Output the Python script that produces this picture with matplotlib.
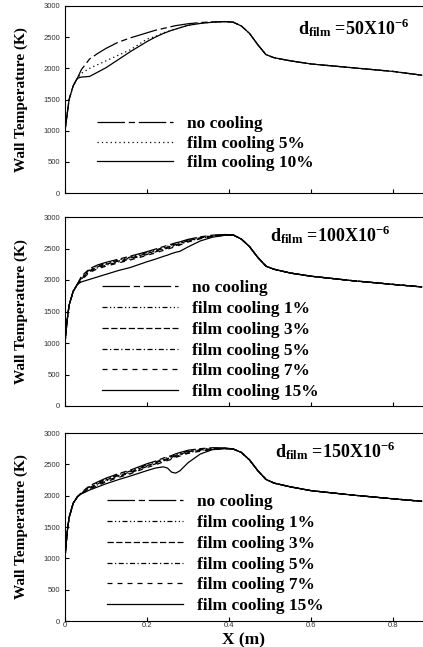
import numpy as np
import matplotlib
matplotlib.use("Agg")
import matplotlib.pyplot as plt

plt.rcParams['font.family'] = ['Liberation Serif', 'DejaVu Serif']
plt.rcParams['mathtext.fontset'] = 'custom'
plt.rcParams['mathtext.rm'] = 'Liberation Serif'
plt.rcParams['mathtext.bf'] = 'Liberation Serif:bold'

# common x grid (m)
x_m = [0, 0.005, 0.01, 0.02, 0.03, 0.04, 0.06, 0.08, 0.1, 0.13, 0.16, 0.2, 0.22, 0.24, 0.25,
       0.26, 0.27, 0.28, 0.3, 0.33, 0.36, 0.39, 0.41, 0.43, 0.45, 0.47, 0.49, 0.51, 0.55,
       0.6, 0.7, 0.8, 0.87]

# panel 1 : d_film = 50e-6
p1_none = [1000, 1250, 1500, 1720, 1840, 1980, 2150, 2240, 2320, 2420, 2490, 2570, 2610, 2640, 2655,
           2670, 2685, 2695, 2715, 2735, 2745, 2750, 2740, 2680, 2560, 2380, 2220, 2170, 2120,
           2070, 2010, 1950, 1890]
p1_c5 = [1000, 1250, 1500, 1720, 1840, 1920, 2000, 2060, 2120, 2210, 2300, 2470, 2510, 2570, 2590,
         2610, 2630, 2650, 2690, 2725, 2740, 2750, 2740, 2680, 2560, 2380, 2220, 2170, 2120,
         2070, 2010, 1950, 1890]
p1_c10 = [1000, 1250, 1500, 1720, 1840, 1860, 1870, 1940, 2010, 2140, 2270, 2430, 2500, 2560, 2585,
          2610, 2630, 2650, 2690, 2720, 2740, 2750, 2740, 2680, 2560, 2380, 2220, 2170, 2120,
          2070, 2010, 1950, 1890]

# panel 2 : d_film = 100e-6
p2_none = [1000, 1350, 1600, 1820, 1930, 2060, 2180, 2240, 2280, 2330, 2380, 2450, 2490, 2530, 2550,
           2570, 2590, 2605, 2645, 2685, 2712, 2722, 2715, 2650, 2530, 2360, 2220, 2170, 2110,
           2060, 1990, 1930, 1890]
p2_c1 = [1000, 1350, 1600, 1820, 1930, 2045, 2165, 2225, 2265, 2315, 2365, 2435, 2475, 2515, 2535,
         2555, 2575, 2592, 2635, 2677, 2706, 2718, 2715, 2650, 2530, 2360, 2220, 2170, 2110,
         2060, 1990, 1930, 1890]
p2_c3 = [1000, 1350, 1600, 1820, 1930, 2030, 2150, 2210, 2250, 2300, 2350, 2420, 2460, 2500, 2520,
         2540, 2560, 2580, 2625, 2670, 2700, 2715, 2715, 2650, 2530, 2360, 2220, 2170, 2110,
         2060, 1990, 1930, 1890]
p2_c5 = [1000, 1350, 1600, 1820, 1930, 2015, 2135, 2195, 2235, 2285, 2335, 2405, 2445, 2485, 2505,
         2525, 2546, 2567, 2614, 2662, 2695, 2712, 2715, 2650, 2530, 2360, 2220, 2170, 2110,
         2060, 1990, 1930, 1890]
p2_c7 = [1000, 1350, 1600, 1820, 1930, 2000, 2120, 2180, 2220, 2270, 2320, 2390, 2430, 2470, 2490,
         2510, 2532, 2555, 2603, 2655, 2690, 2710, 2715, 2650, 2530, 2360, 2220, 2170, 2110,
         2060, 1990, 1930, 1890]
p2_c15 = [1000, 1350, 1600, 1820, 1930, 1970, 2010, 2050, 2090, 2150, 2200, 2290, 2330, 2375, 2395,
          2420, 2440, 2455, 2525, 2620, 2680, 2710, 2715, 2650, 2530, 2360, 2220, 2170, 2110,
          2060, 1990, 1930, 1890]

# panel 3 : d_film = 150e-6
p3_none = [1000, 1400, 1650, 1880, 1980, 2050, 2160, 2220, 2280, 2350, 2410, 2510, 2550, 2600, 2620,
           2640, 2668, 2688, 2725, 2750, 2765, 2762, 2745, 2690, 2570, 2400, 2260, 2200, 2140,
           2080, 2010, 1950, 1910]
p3_c1 = [1000, 1400, 1650, 1880, 1980, 2045, 2145, 2205, 2265, 2335, 2395, 2495, 2535, 2585, 2605,
         2625, 2654, 2674, 2712, 2740, 2758, 2758, 2745, 2690, 2570, 2400, 2260, 2200, 2140,
         2080, 2010, 1950, 1910]
p3_c3 = [1000, 1400, 1650, 1880, 1980, 2040, 2130, 2190, 2250, 2320, 2380, 2480, 2520, 2570, 2590,
         2610, 2640, 2660, 2700, 2730, 2750, 2755, 2745, 2690, 2570, 2400, 2260, 2200, 2140,
         2080, 2010, 1950, 1910]
p3_c5 = [1000, 1400, 1650, 1880, 1980, 2035, 2115, 2175, 2235, 2305, 2365, 2465, 2505, 2555, 2575,
         2595, 2626, 2646, 2688, 2720, 2742, 2752, 2745, 2690, 2570, 2400, 2260, 2200, 2140,
         2080, 2010, 1950, 1910]
p3_c7 = [1000, 1400, 1650, 1880, 1980, 2030, 2100, 2160, 2220, 2290, 2350, 2450, 2490, 2540, 2560,
         2580, 2612, 2632, 2675, 2710, 2735, 2750, 2745, 2690, 2570, 2400, 2260, 2200, 2140,
         2080, 2010, 1950, 1910]
p3_c15 = [1000, 1400, 1650, 1880, 1980, 2030, 2090, 2140, 2190, 2255, 2315, 2400, 2440, 2460, 2440,
          2375, 2360, 2395, 2525, 2665, 2735, 2750, 2745, 2690, 2570, 2400, 2260, 2200, 2140,
          2080, 2010, 1950, 1910]

labels1 = ["no cooling", "film cooling 5%", "film cooling 10%"]
labels2 = ["no cooling", "film cooling 1%", "film cooling 3%", "film cooling 5%",
           "film cooling 7%", "film cooling 15%"]
films = [r"$\mathbf{d_{film}}$ =50X10$^{\mathbf{-6}}$",
         r"$\mathbf{d_{film}}$ =100X10$^{\mathbf{-6}}$",
         r"$\mathbf{d_{film}}$ =150X10$^{\mathbf{-6}}$"]

ls_none = (0, (22, 3, 5, 3))
styles1 = [ls_none, (0, (1, 2.5)), '-']
styles2 = [ls_none, (0, (4, 2, 1, 2, 1, 2)), (0, (5, 2)), (0, (4, 2, 1, 2)), (0, (4, 4)), '-']

fig = plt.figure(figsize=(4.23, 6.47), dpi=100)
W, H = 423, 647
boxes = [(6, 193), (217, 406), (433, 621)]
legpos = [(0.089, 0.412), (0.103, 0.667), (0.117, 0.676)]
legsp = [0.2, 0.27, 0.27]
filmpos = [(0.651, 0.882), (0.573, 0.905), (0.587, 0.904)]
data = [[p1_none, p1_c5, p1_c10],
        [p2_none, p2_c1, p2_c3, p2_c5, p2_c7, p2_c15],
        [p3_none, p3_c1, p3_c3, p3_c5, p3_c7, p3_c15]]

for i, (top, bot) in enumerate(boxes):
    ax = fig.add_axes([65 / W, 1 - bot / H, 1 - 65 / W, (bot - top) / H])
    labs = labels1 if i == 0 else labels2
    sty = styles1 if i == 0 else styles2
    for y, lab, s in zip(data[i], labs, sty):
        ax.plot(x_m, y, color='black', lw=0.9, linestyle=s, label=lab)
    ax.set_xlim(0, 0.873)
    ax.set_ylim(0, 3000)
    ax.set_yticks(range(0, 3001, 500))
    ax.set_xticks([0, 0.2, 0.4, 0.6, 0.8])
    ax.tick_params(direction='in', length=3, width=0.8, labelsize=5.5, labelcolor='#333333')
    ax.tick_params(axis='x', pad=1)
    for t in ax.get_yticklabels() + ax.get_xticklabels():
        t.set_family('Liberation Sans')
    if i < 2:
        ax.set_xticklabels([])
    else:
        ax.set_xticklabels(["0", "0.2", "0.4", "0.6", "0.8"])
    ax.spines['right'].set_visible(False)
    ax.text(-0.123, 0.5, "Wall Temperature (K)", transform=ax.transAxes, rotation=90,
            ha='center', va='center', fontsize=11, fontweight='bold')
    ax.text(filmpos[i][0], filmpos[i][1], films[i], transform=ax.transAxes,
            ha='left', va='center', fontsize=13, fontweight='bold')
    ax.legend(loc='upper left', bbox_to_anchor=legpos[i], frameon=False, borderpad=0,
              borderaxespad=0, handlelength=4.4, handletextpad=0.8, labelspacing=legsp[i],
              prop={'family': 'Liberation Serif', 'weight': 'bold', 'size': 12.5})

fig.text(243 / W, 1 - 640 / H, "X (m)", ha='center', va='center', fontsize=12.5, fontweight='bold')

fig.savefig("out.png", dpi=100)
